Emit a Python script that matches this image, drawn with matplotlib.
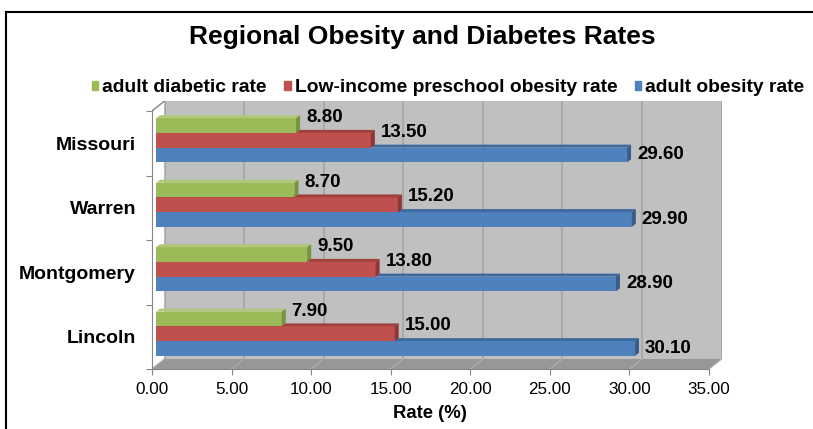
import matplotlib
matplotlib.use("Agg")
import matplotlib.pyplot as plt
from matplotlib.patches import Rectangle, Polygon
from matplotlib.lines import Line2D

plt.rcParams['font.family'] = ['Liberation Sans', 'DejaVu Sans']

# data
counties = ['Lincoln', 'Montgomery', 'Warren', 'Missouri']
diabetic = [7.90, 9.50, 8.70, 8.80]
preschool_obesity = [15.00, 13.80, 15.20, 13.50]
adult_obesity = [30.10, 28.90, 29.90, 29.60]
series_names = ['adult diabetic rate', 'Low-income preschool obesity rate', 'adult obesity rate']
xticks = [0, 5, 10, 15, 20, 25, 30, 35]

# colours: front, top, side
green = ('#9BBB59', '#AFC978', '#77933C')
red = ('#C0504D', '#A3403D', '#8C3836')
blue = ('#4F81BD', '#3E6A9E', '#385D8A')

W, H = 813, 429
fig = plt.figure(figsize=(W / 100, H / 100), dpi=100)

# pixel geometry of the front plane and depth offsets
x0px, x35px = 152, 709
ytop_px, ybot_px = 111, 369
wall_dx, wall_dy = 12.5, 10
bar_dx, bar_dy = 4, 3
sx = (x35px - x0px) / 35.0
sy = (ybot_px - ytop_px) / 4.0

ax = fig.add_axes([x0px / W, 1 - ybot_px / H,
                   (x35px - x0px + wall_dx) / W, (ybot_px - ytop_px + wall_dy) / H])
ax.set_xlim(0, 35 + wall_dx / sx)
ax.set_ylim(-0.5, 3.5 + wall_dy / sy)

wdx, wdy = wall_dx / sx, wall_dy / sy

# back wall and floor
ax.add_patch(Rectangle((wdx, -0.5 + wdy), 35, 4, facecolor='#C0C0C0', edgecolor='none', zorder=0))
ax.add_patch(Polygon([(0, -0.5), (35, -0.5), (35 + wdx, -0.5 + wdy), (wdx, -0.5 + wdy)],
                     closed=True, facecolor='#979797', edgecolor='none', zorder=0))
for v in xticks:
    ax.plot([v + wdx, v + wdx], [-0.5 + wdy, 3.5 + wdy], color='#A3A3A3', lw=1.1, zorder=1)
    ax.plot([v, v + wdx], [-0.5, -0.5 + wdy], color='#ABABAB', lw=1.0, zorder=1)
ax.plot([0, wdx], [3.5, 3.5 + wdy], color='#868686', lw=1.0, zorder=1)

# 3d bars
h = 14.7 / sy
bdx, bdy = bar_dx / sx, bar_dy / sy
start = bar_dx / sx
series = [(adult_obesity, blue, -h, 0), (preschool_obesity, red, 0, 8), (diabetic, green, h, 8)]
for i in range(len(counties)):
    yc = i + bar_dy / sy
    for vals, cols, off, lab_off in series:
        v = vals[i]
        yb = yc + off - h / 2
        yt = yc + off + h / 2
        x1 = start + v
        ax.barh(yc + off, v, height=h, left=start, color=cols[0], zorder=3)
        ax.add_patch(Polygon([(start, yt), (x1, yt), (x1 + bdx, yt + bdy), (start + bdx, yt + bdy)],
                             closed=True, facecolor=cols[1], edgecolor='none', zorder=3))
        ax.add_patch(Polygon([(x1, yb), (x1, yt), (x1 + bdx, yt + bdy), (x1 + bdx, yb + bdy)],
                             closed=True, facecolor=cols[2], edgecolor='none', zorder=3))
        ax.text(x1 + 10 / sx, yc + off + lab_off / sy, '%.2f' % v, ha='left', va='center',
                fontsize=13.5, fontweight='bold', zorder=5)

# axes
for s in ['top', 'right']:
    ax.spines[s].set_visible(False)
ax.spines['left'].set_bounds(-0.5, 3.5)
ax.spines['bottom'].set_bounds(0, 35)
for s in ['left', 'bottom']:
    ax.spines[s].set_color('#868686')
    ax.spines[s].set_zorder(2)

ax.set_xticks(xticks)
ax.set_xticklabels(['%.2f' % t for t in xticks])
ax.tick_params(axis='x', length=4, color='#868686', labelsize=12.3, pad=5)

ax.set_yticks([-0.5, 0.5, 1.5, 2.5, 3.5])
ax.set_yticklabels([])
ax.set_yticks(range(len(counties)), minor=True)
ax.set_yticklabels(counties, minor=True, fontsize=14, fontweight='bold')
ax.tick_params(axis='y', which='major', length=4, color='#868686')
ax.tick_params(axis='y', which='minor', length=0, pad=11.5)

ax.set_xlabel('Rate (%)', fontsize=13.3, fontweight='bold', va='center')
ax.xaxis.set_label_coords((430 - x0px) / (x35px - x0px + wall_dx), (ybot_px - 413) / (ybot_px - ytop_px + wall_dy))

fig.text(422 / W, 1 - 37 / H, 'Regional Obesity and Diabetes Rates', ha='center', va='center',
         fontsize=19, fontweight='bold')

handles = [Rectangle((0, 0), 1, 1, color=c[0]) for c in (green, red, blue)]
fig.legend(handles, series_names, loc='center', bbox_to_anchor=(448 / W, 1 - 88 / H), ncol=3,
           frameon=False, prop={'weight': 'bold', 'size': 13.9}, handlelength=0.35, handleheight=0.35,
           handletextpad=0.2, columnspacing=0.9, borderaxespad=0)

# chart border
fig.add_artist(Line2D([6 / W, 6 / W], [0, 1 - 12 / H], color='black', lw=1.5))
fig.add_artist(Line2D([6 / W, 1], [1 - 12 / H, 1 - 12 / H], color='black', lw=1.5))

fig.savefig('out.png', dpi=100)
